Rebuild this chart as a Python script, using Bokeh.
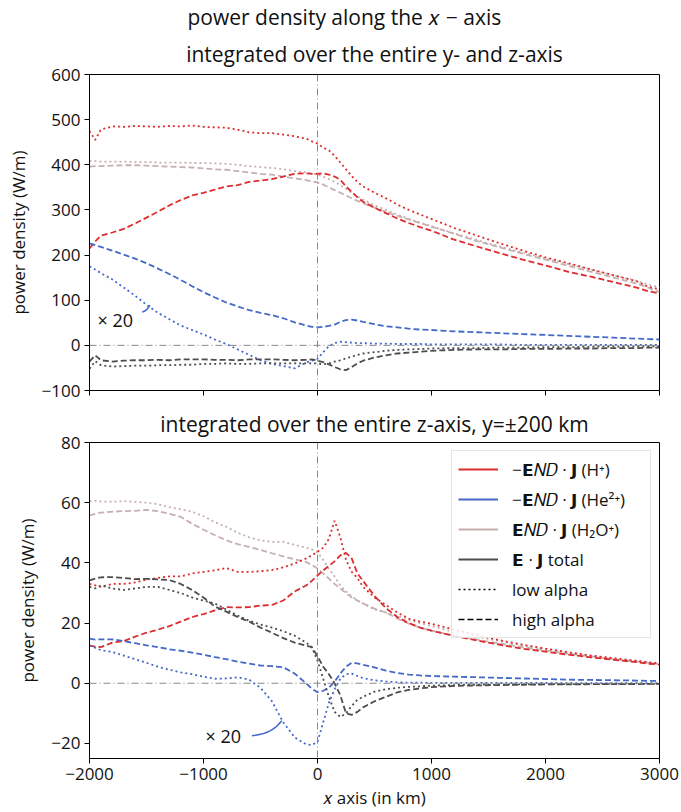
from bokeh.plotting import figure
from bokeh.layouts import column
from bokeh.models import Span, Label, Title, Legend, LegendItem, FixedTicker, ColumnDataSource
from bokeh.embed import file_html
from bokeh.resources import INLINE

# ---------------- data ----------------
x_km = [-2000, -1950, -1900, -1800, -1700, -1600, -1500, -1400, -1300, -1200, -1100, -1000,
        -900, -800, -700, -600, -500, -400, -300, -200, -100, -50, 0, 50, 100, 150, 200,
        250, 300, 350, 400, 500, 600, 700, 800, 900, 1000, 1200, 1400, 1600, 1800, 2000,
        2200, 2400, 2600, 2800, 2900, 3000]

# top panel: integrated over entire y and z (W/m)
h_low_top = [475, 455, 478, 485, 484, 486, 485, 484, 486, 485, 487, 484,
             483, 482, 478, 472, 470, 470, 467, 463, 458, 452, 447, 438, 432, 420, 405,
             390, 375, 362, 352, 338, 326, 312, 300, 290, 280, 260, 243, 226, 210, 195,
             182, 168, 155, 142, 130, 124]
h_high_top = [215, 230, 243, 250, 258, 270, 283, 296, 310, 322, 332, 338,
              345, 352, 355, 362, 365, 368, 374, 380, 381, 380, 380, 381, 378, 374, 367,
              352, 340, 328, 318, 305, 293, 281, 271, 262, 254, 234, 219, 204, 190, 177,
              163, 152, 140, 128, 120, 115]
w_low_top = [408, 408, 407, 407, 407, 406, 406, 405, 405, 405, 404, 404,
             403, 402, 400, 397, 395, 393, 390, 386, 383, 381, 378, 374, 368, 362, 355,
             347, 338, 330, 323, 310, 300, 290, 280, 272, 264, 248, 233, 219, 206, 193,
             180, 168, 155, 143, 135, 128]
w_high_top = [396, 397, 397, 398, 399, 399, 398, 397, 396, 395, 394, 392,
              390, 389, 386, 383, 380, 378, 374, 370, 366, 363, 361, 356, 350, 344, 338,
              332, 326, 320, 315, 305, 296, 287, 279, 271, 263, 247, 231, 217, 203, 190,
              176, 163, 150, 137, 128, 118]
he_low_top = [175, 168, 160, 146, 128, 110, 90, 72, 58, 44, 34, 24,
              13, 3, -9, -21, -33, -41, -46, -51, -38, -34, -30, -15, -2, 5, 8,
              7, 6, 5, 5, 4, 4, 3, 3, 3, 2, 2, 2, 2, 1, 1,
              1, 1, 1, 1, 1, 1]
he_high_top = [226, 222, 218, 210, 201, 192, 182, 170, 158, 145, 131, 118,
               106, 95, 86, 78, 72, 67, 60, 51, 44, 41, 40, 41, 43, 46, 52,
               56, 57, 55, 52, 47, 42, 40, 37, 35, 34, 31, 29, 27, 25, 23,
               21, 19, 17, 15, 14, 13]
tot_low_top = [-52, -35, -44, -47, -46, -45, -45, -44, -44, -43, -43, -41,
               -41, -40, -41, -41, -40, -40, -40, -40, -40, -40, -40, -42, -40, -36, -33,
               -29, -25, -21, -18, -15, -12, -10, -9, -8, -7, -6, -6, -5, -5, -4,
               -4, -3, -3, -2, -2, -2]
tot_high_top = [-36, -22, -33, -36, -34, -33, -33, -32, -33, -31, -31, -31,
                -32, -32, -33, -31, -31, -31, -32, -33, -32, -31, -34, -37, -42, -48, -53,
                -55, -48, -40, -34, -27, -22, -18, -16, -14, -12, -10, -9, -9, -8, -8,
                -7, -7, -6, -6, -5, -5]

# bottom panel: integrated over entire z, y = +-200 km (W/m)
h_low_bot = [33, 32.5, 32, 33, 33, 33.5, 34.5, 35, 35.5, 35.5, 36.5, 37,
             37.5, 38.3, 37, 37, 37.2, 37.6, 38.5, 39.8, 41.5, 42.5, 43.7, 45, 48, 54, 48.5,
             41, 37, 35, 32, 28.5, 26, 23.5, 21.5, 20.5, 19.8, 17.8, 16, 14.3, 12.8, 11.5,
             10.3, 9.2, 8.3, 7.4, 7, 6.6]
h_high_bot = [12.5, 12.2, 12, 13.5, 14, 15.5, 16.8, 17.8, 19, 20.5, 22, 23,
              24.2, 25.3, 25.2, 25.3, 25.8, 26, 27.5, 30.5, 32.5, 34, 35.8, 37.5, 39, 40.5, 42.5,
              43.3, 41.5, 36.5, 34, 29, 25, 22, 20, 18.5, 17.5, 15.7, 14.2, 12.8, 11.5, 10.5,
              9.5, 8.6, 7.8, 7, 6.5, 6.2]
w_low_bot = [60.5, 60.6, 60.4, 60.3, 60.5, 60.3, 60, 59.5, 58.5, 57.8, 57, 55.5,
             53.5, 52, 50, 48.5, 47.5, 47, 47, 46, 45, 44.5, 43.5, 41, 38, 35.5, 32.5,
             30.5, 29, 27.5, 26.5, 24.5, 23.5, 22.5, 21, 20, 19, 17, 15.5, 14, 12.6, 11.4,
             10.2, 9.2, 8.3, 7.5, 7, 6.6]
w_high_bot = [55.8, 56.3, 56.7, 57, 57.2, 57.3, 57.6, 57.2, 56.3, 55.3, 53, 51,
              49.2, 47.5, 46.2, 45.3, 44.3, 43.2, 42.2, 41.2, 40.3, 39.3, 38.1, 36.5, 34.8, 33, 31.5,
              30, 28.5, 27.5, 26.5, 24.8, 23.5, 21.5, 19.8, 18.5, 17.5, 15.8, 14.5, 13.2, 12, 10.9,
              9.8, 8.9, 8, 7.2, 6.8, 6.4]
he_low_bot = [12.6, 11.8, 11, 10.4, 9.2, 8, 6.8, 5.5, 4.5, 3.6, 3, 2.2,
              1.5, 1.6, 2, 1.2, -1.5, -6, -13, -18, -20.3, -20.5, -19.5, -13, -6.5, -2, 1.5,
              3, 3.2, 2.4, 1.7, 1, 0.6, 0.3, 0.2, 0.2, 0.1, 0.1, 0.1, 0.1, 0.1, 0.1,
              0, 0, 0, 0, 0, 0]
he_high_bot = [14.8, 14.5, 14.6, 14.6, 14, 13.3, 12.6, 12, 11.3, 10.8, 10.2, 9.5,
               8.7, 8, 7.2, 6.5, 5.9, 5.7, 5.3, 3.2, 0, -1.8, -3, -2.5, -1.5, 0.5, 3.2,
               5.5, 6.8, 6.6, 6.1, 5.3, 4.2, 3.4, 2.9, 2.6, 2.4, 2.2, 2, 1.8, 1.6, 1.4,
               1.2, 1.1, 1, 0.9, 0.8, 0.8]
tot_low_bot = [32, 31.5, 32.5, 31.5, 31, 31.5, 32, 32, 31, 30, 28.5, 27.5,
               26.5, 24.5, 22.5, 20.8, 19.5, 18.5, 17.3, 15.8, 13.5, 12, 7.5, 1.5, -4.5, -9.5, -11.2,
               -10, -7.5, -5.5, -4.5, -2.8, -2, -1.5, -1.2, -1, -0.8, -0.6, -0.5, -0.4, -0.4, -0.3,
               -0.3, -0.3, -0.2, -0.2, -0.2, -0.2]
tot_high_bot = [34.2, 34.8, 35.2, 35.3, 35, 34.6, 34.7, 34.5, 34.3, 33, 31, 28.5,
                25.5, 23.8, 22, 20.5, 18.5, 16.8, 15, 13.5, 12.5, 12, 9, 5.5, 3, 0, -4,
                -10, -10.5, -9.5, -8, -6, -4.5, -3, -2.2, -1.7, -1.3, -0.9, -0.7, -0.6, -0.5, -0.4,
                -0.4, -0.3, -0.3, -0.3, -0.2, -0.2]

x_ticks = [-2000, -1000, 0, 1000, 2000, 3000]
y_ticks_top = [-100, 0, 100, 200, 300, 400, 500, 600]
y_ticks_bot = [-20, 0, 20, 40, 60, 80]

legend_labels = ["−𝗘𝑁𝐷 · 𝗝 (H⁺)", "−𝗘𝑁𝐷 · 𝗝 (He²⁺)", "𝗘𝑁𝐷 · 𝗝 (H₂O⁺)", "𝗘 · 𝗝 total",
                 "low alpha", "high alpha"]

# ---------------- style ----------------
FONT = "Open Sans"
RED = "#dd2c2f"
BLUE = "#4469c8"
PINK = "#c6b0b0"
DARK = "#4d4d4d"
LW = 1.8
DOT = "2 3"
DASH = "6 3"
TXT = "#111111"
TITLE_SIZE = "21px"


def fmt(v):
    return str(v).replace("-", "\u2212")


def style(p, yticks, show_xlabels):
    p.grid.visible = False
    p.outline_line_color = "black"
    p.outline_line_width = 1
    p.outline_line_alpha = 1
    for ax in (p.xaxis[0], p.yaxis[0]):
        ax.axis_line_color = "black"
        ax.major_tick_line_color = "black"
        ax.minor_tick_line_color = None
        ax.major_tick_in = 0
        ax.major_tick_out = 5
        ax.major_label_text_font = FONT
        ax.major_label_text_font_size = "17px"
        ax.major_label_text_color = TXT
        ax.axis_label_text_font = FONT
        ax.axis_label_text_font_size = "17px"
        ax.axis_label_text_font_style = "normal"
        ax.axis_label_text_color = TXT
    p.xaxis[0].ticker = FixedTicker(ticks=x_ticks)
    p.xaxis[0].major_label_overrides = {t: fmt(t) for t in x_ticks}
    p.yaxis[0].ticker = FixedTicker(ticks=yticks)
    p.yaxis[0].major_label_overrides = {t: fmt(t) for t in yticks}
    p.yaxis[0].major_label_standoff = 4
    p.yaxis[0].axis_label = "power density (W/m)"
    p.yaxis[0].axis_label_standoff = 9
    if not show_xlabels:
        p.xaxis[0].major_label_text_font_size = "1px"
        p.xaxis[0].major_label_text_color = None
        p.xaxis[0].major_label_standoff = 0
    else:
        p.xaxis[0].major_label_standoff = 4
        p.xaxis[0].axis_label = "𝑥 axis (in km)"
        p.xaxis[0].axis_label_standoff = 3
    p.add_layout(Span(location=0, dimension="height", line_color="#888888",
                      line_width=1, line_dash="7 3 1 3"))
    p.add_layout(Span(location=0, dimension="width", line_color="#888888",
                      line_width=1, line_dash="7 3 1 3"))


def draw(p, src):
    specs = [("w_low", PINK, DOT), ("w_high", PINK, DASH),
             ("h_low", RED, DOT), ("h_high", RED, DASH),
             ("he_low", BLUE, DOT), ("he_high", BLUE, DASH),
             ("t_low", DARK, DOT), ("t_high", DARK, DASH)]
    for col, c, d in specs:
        p.line("x", col, source=src, line_color=c, line_width=LW, line_dash=d)


# ---------------- top figure ----------------
src_top = ColumnDataSource(dict(x=x_km, h_low=h_low_top, h_high=h_high_top,
                                he_low=he_low_top, he_high=he_high_top,
                                w_low=w_low_top, w_high=w_high_top,
                                t_low=tot_low_top, t_high=tot_high_top))
p1 = figure(width=681, height=402, x_range=(-2000, 3000), y_range=(-100, 600),
            output_backend="svg", toolbar_location=None,
            min_border_left=89, min_border_right=22, min_border_top=73, min_border_bottom=12)
style(p1, y_ticks_top, False)
draw(p1, src_top)
p1.add_layout(Title(text="integrated over the entire y- and z-axis", align="center",
                    text_font=FONT, text_font_size=TITLE_SIZE, text_font_style="normal",
                    text_color=TXT, standoff=14), "above")
p1.add_layout(Title(text="power density along the 𝑥 − axis", align="left", offset=98,
                    text_font=FONT, text_font_size=TITLE_SIZE, text_font_style="normal",
                    text_color=TXT, standoff=0), "above")
p1.add_layout(Label(x=-1930, y=56, text="× 20", text_font=FONT, text_font_size="18px",
                    text_baseline="middle", text_color=TXT))
p1.quadratic(x0=[-1538], y0=[74], x1=[-1471], y1=[89], cx=[-1495], cy=[76],
             line_color=BLUE, line_width=1.5)

# ---------------- bottom figure ----------------
src_bot = ColumnDataSource(dict(x=x_km, h_low=h_low_bot, h_high=h_high_bot,
                                he_low=he_low_bot, he_high=he_high_bot,
                                w_low=w_low_bot, w_high=w_high_bot,
                                t_low=tot_low_bot, t_high=tot_high_bot))
p2 = figure(width=681, height=410, x_range=(-2000, 3000), y_range=(-25, 80),
            output_backend="svg", toolbar_location=None,
            min_border_left=89, min_border_right=22, min_border_top=39, min_border_bottom=54)
style(p2, y_ticks_bot, True)
draw(p2, src_bot)
p2.add_layout(Title(text="integrated over the entire z-axis, y=±200 km", align="center",
                    text_font=FONT, text_font_size=TITLE_SIZE, text_font_style="normal",
                    text_color=TXT, standoff=10), "above")
p2.add_layout(Label(x=-982, y=-17.4, text="× 20", text_font=FONT, text_font_size="18px",
                    text_baseline="middle", text_color=TXT))
p2.quadratic(x0=[-576], y0=[-17.4], x1=[-313], y1=[-12.4], cx=[-400], cy=[-17.0],
             line_color=BLUE, line_width=1.5)

# legend (proxy handles with no visible points)
nan = float("nan")
r_h = p2.line([nan], [nan], line_color=RED, line_width=2)
r_he = p2.line([nan], [nan], line_color=BLUE, line_width=2)
r_w = p2.line([nan], [nan], line_color=PINK, line_width=2)
r_t = p2.line([nan], [nan], line_color=DARK, line_width=2)
r_lo = p2.line([nan], [nan], line_color="black", line_width=1.5, line_dash=DOT)
r_hi = p2.line([nan], [nan], line_color="black", line_width=1.5, line_dash=DASH)
legend = Legend(items=[LegendItem(label=l, renderers=[r]) for l, r in
                       zip(legend_labels, [r_h, r_he, r_w, r_t, r_lo, r_hi])],
                location="top_right")
legend.margin = 8
legend.padding = 6
legend.spacing = 6
legend.label_height = 24
legend.label_width = 132
legend.glyph_height = 24
legend.glyph_width = 40
legend.label_standoff = 14
legend.label_text_font = FONT
legend.label_text_font_size = "17px"
legend.label_text_color = TXT
legend.border_line_color = "#cccccc"
legend.border_line_width = 1
legend.background_fill_alpha = 0.85
p2.add_layout(legend, "center")

layout = column(p1, p2, spacing=0)
open("out.html", "w").write(file_html(layout, INLINE))
